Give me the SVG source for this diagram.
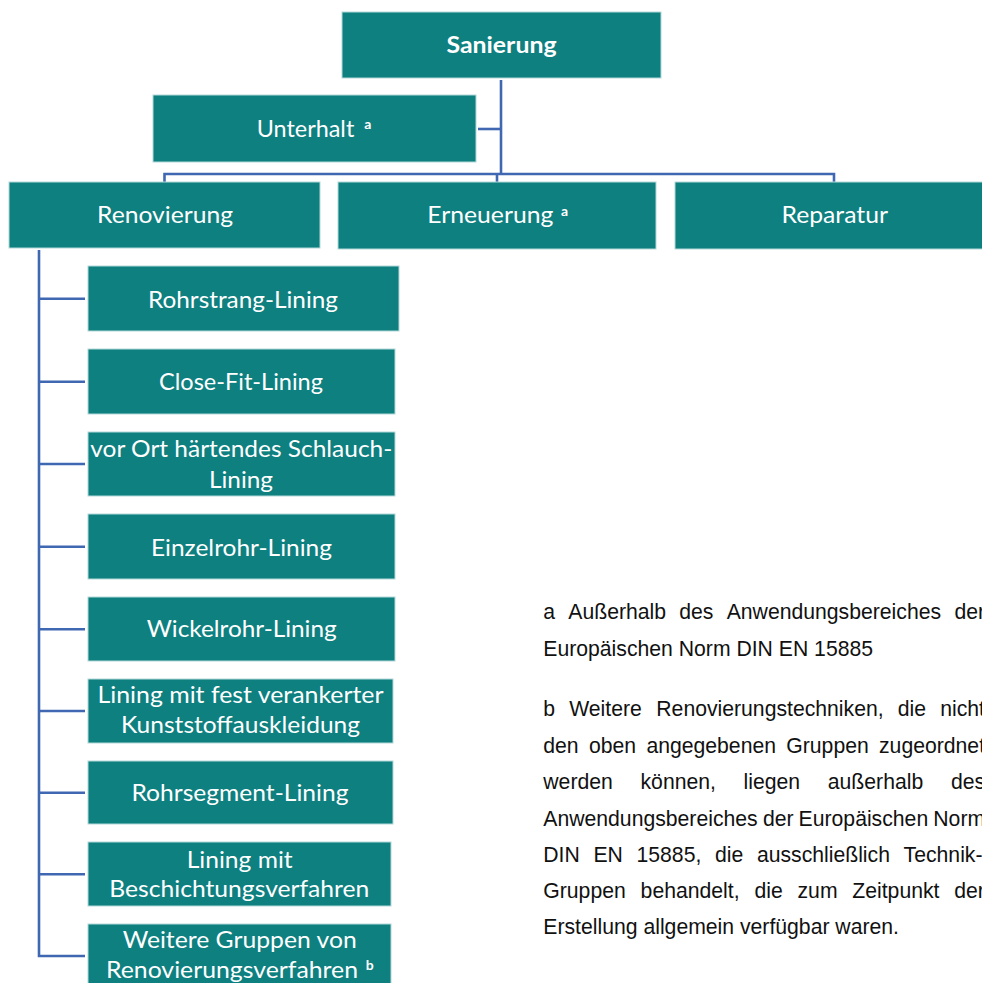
<svg xmlns="http://www.w3.org/2000/svg" width="982" height="983" viewBox="0 0 982 983">
<style>
.box{fill:#0E8080;stroke:#b3d8d8;stroke-width:1}
.t{font-family:Lato,"Noto Sans",sans-serif;font-size:22.5px;fill:#ffffff}
.c{text-anchor:middle}
.b{font-weight:bold}
.sup{font-family:Lato,"Noto Sans",sans-serif;font-size:14px;font-weight:bold;fill:#ffffff}
.con{fill:none;stroke:#4068B2;stroke-width:2.6}
.fn{font-family:"Liberation Sans",Arial,sans-serif;font-size:21.2px;fill:#111111}
</style>
<rect width="982" height="983" fill="#ffffff"/>
<g id="connectors">
<path class="con" d="M501 80V174"/>
<path class="con" d="M478 129H501"/>
<path class="con" d="M164.5 182V174H834V182"/>
<path class="con" d="M497 174V182"/>
<path class="con" d="M39 250V956H85"/>
<path class="con" d="M39 298.7H85M39 381.7H85M39 464H85M39 546.7H85M39 629.3H85M39 711H85M39 792.7H85M39 874.3H85"/>
</g>
<g id="n-sanierung"><rect class="box" x="342" y="12" width="319" height="66"/><text class="t c b" x="501.5" y="53" textLength="110" lengthAdjust="spacingAndGlyphs">Sanierung</text></g>
<g id="n-unterhalt"><rect class="box" x="153" y="95" width="323" height="67"/><text class="t" x="256.7" y="136.7"><tspan textLength="97.6" lengthAdjust="spacingAndGlyphs">Unterhalt</tspan><tspan class="sup" x="364.3" y="129.3">a</tspan></text></g>
<g id="n-renovierung"><rect class="box" x="9" y="182" width="311" height="66"/><text class="t c" x="165" y="222.5" textLength="136" lengthAdjust="spacingAndGlyphs">Renovierung</text></g>
<g id="n-erneuerung"><rect class="box" x="338" y="182" width="318" height="67"/><text class="t" x="427.3" y="223.3"><tspan textLength="126" lengthAdjust="spacingAndGlyphs">Erneuerung</tspan><tspan class="sup" x="561" y="216">a</tspan></text></g>
<g id="n-reparatur"><rect class="box" x="675" y="182" width="318" height="67"/><text class="t c" x="834.7" y="222.5" textLength="106.5" lengthAdjust="spacingAndGlyphs">Reparatur</text></g>
<g id="n-rohrstrang"><rect class="box" x="88" y="266" width="311" height="65"/><text class="t c" x="243" y="308" textLength="190" lengthAdjust="spacingAndGlyphs">Rohrstrang-Lining</text></g>
<g id="n-closefit"><rect class="box" x="88" y="349" width="307" height="65"/><text class="t c" x="241" y="390" textLength="164" lengthAdjust="spacingAndGlyphs">Close-Fit-Lining</text></g>
<g id="n-vorort"><rect class="box" x="88" y="432" width="307" height="64"/><text class="t c" x="241.3" y="456.7" textLength="302" lengthAdjust="spacingAndGlyphs">vor Ort härtendes Schlauch-</text><text class="t c" x="241" y="487.7" textLength="64" lengthAdjust="spacingAndGlyphs">Lining</text></g>
<g id="n-einzelrohr"><rect class="box" x="88" y="514" width="307" height="65"/><text class="t c" x="241.5" y="555.5" textLength="181" lengthAdjust="spacingAndGlyphs">Einzelrohr-Lining</text></g>
<g id="n-wickelrohr"><rect class="box" x="88" y="597" width="307" height="64"/><text class="t c" x="241.7" y="637.3" textLength="190" lengthAdjust="spacingAndGlyphs">Wickelrohr-Lining</text></g>
<g id="n-fest"><rect class="box" x="88" y="679" width="305" height="64"/><text class="t c" x="240.5" y="703.3" textLength="286" lengthAdjust="spacingAndGlyphs">Lining mit fest verankerter</text><text class="t c" x="240.5" y="733.3" textLength="239" lengthAdjust="spacingAndGlyphs">Kunststoffauskleidung</text></g>
<g id="n-rohrsegment"><rect class="box" x="88" y="761" width="305" height="63"/><text class="t c" x="240" y="800.7" textLength="217" lengthAdjust="spacingAndGlyphs">Rohrsegment-Lining</text></g>
<g id="n-beschichtung"><rect class="box" x="88" y="842" width="303" height="64"/><text class="t c" x="239.7" y="867.7" textLength="106" lengthAdjust="spacingAndGlyphs">Lining mit</text><text class="t c" x="239.3" y="896.7" textLength="260" lengthAdjust="spacingAndGlyphs">Beschichtungsverfahren</text></g>
<g id="n-weitere"><rect class="box" x="88" y="924" width="303" height="62"/><text class="t c" x="239.7" y="948.3" textLength="234" lengthAdjust="spacingAndGlyphs">Weitere Gruppen von</text><text class="t" x="106" y="977.7"><tspan textLength="252" lengthAdjust="spacingAndGlyphs">Renovierungsverfahren</tspan><tspan class="sup" x="365.7" y="970">b</tspan></text></g>
<g id="footnotes">
<text class="fn" y="618.5"><tspan x="543.3">a</tspan><tspan x="568.3">Außerhalb</tspan><tspan x="679.3">des</tspan><tspan x="726.7">Anwendungsbereiches</tspan><tspan x="954.4">der</tspan></text>
<text class="fn" x="543.3" y="656">Europäischen Norm DIN EN 15885</text>
<text class="fn" y="716"><tspan x="543.3">b</tspan><tspan x="569.2">Weitere</tspan><tspan x="656.3">Renovierungstechniken,</tspan><tspan x="897.8">die</tspan><tspan x="940.2">nicht</tspan></text>
<text class="fn" y="752.7"><tspan x="543.3">den</tspan><tspan x="589">oben</tspan><tspan x="646.4">angegebenen</tspan><tspan x="786.3">Gruppen</tspan><tspan x="879">zugeordnet</tspan></text>
<text class="fn" y="789.3"><tspan x="543.3">werden</tspan><tspan x="640.5">können,</tspan><tspan x="743.6">liegen</tspan><tspan x="827.8">außerhalb</tspan><tspan x="950.9">des</tspan></text>
<text class="fn" y="826"><tspan x="543.3">Anwendungsbereiches</tspan><tspan x="762.9">der</tspan><tspan x="798.6">Europäischen</tspan><tspan x="933.3">Norm</tspan></text>
<text class="fn" y="861.7"><tspan x="543.3">DIN</tspan><tspan x="593.4">EN</tspan><tspan x="636.5">15885,</tspan><tspan x="714.9">die</tspan><tspan x="756.9">ausschließlich</tspan><tspan x="903.6">Technik-</tspan></text>
<text class="fn" y="898.3"><tspan x="543.3">Gruppen</tspan><tspan x="640.6">behandelt,</tspan><tspan x="754.4">die</tspan><tspan x="797.5">zum</tspan><tspan x="852.3">Zeitpunkt</tspan><tspan x="954.3">der</tspan></text>
<text class="fn" x="543.3" y="934.3">Erstellung allgemein verfügbar waren.</text>
</g>
</svg>
